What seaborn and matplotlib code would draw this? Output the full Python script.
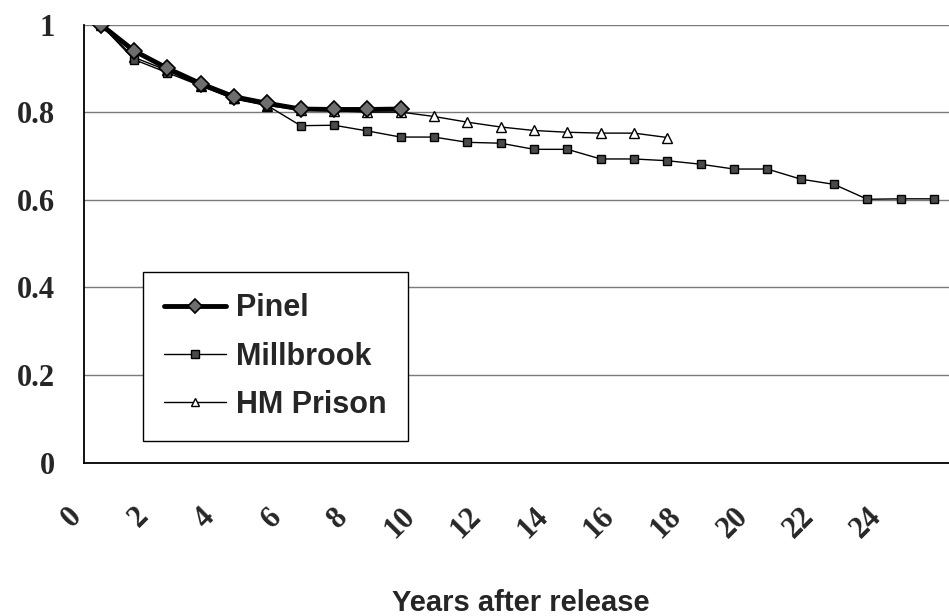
import pandas as pd
import matplotlib.pyplot as plt
import matplotlib.transforms as mtransforms
import seaborn as sns

plt.switch_backend('Agg')
sns.set_style("white")

# data (survival proportion by year after release)
years = list(range(26))
pinel = [1.0, 0.94, 0.90, 0.865, 0.835, 0.82, 0.807, 0.806, 0.806, 0.807]
millbrook = [1.0, 0.92, 0.89, 0.86, 0.83, 0.815, 0.769, 0.770, 0.757, 0.743,
             0.743, 0.731, 0.729, 0.715, 0.715, 0.693, 0.693, 0.689, 0.681,
             0.670, 0.670, 0.647, 0.635, 0.601, 0.602, 0.602]
hm_prison = [1.0, 0.925, 0.895, 0.86, 0.832, 0.815, 0.805, 0.803, 0.80, 0.80,
             0.790, 0.777, 0.766, 0.758, 0.754, 0.752, 0.752, 0.742]
y_ticks = [0, 0.2, 0.4, 0.6, 0.8, 1]
y_labels = ['0', '0.2', '0.4', '0.6', '0.8', '1']

pinel_df = pd.DataFrame({'year': years[:len(pinel)], 'value': pinel})
mill_df = pd.DataFrame({'year': years[:len(millbrook)], 'value': millbrook})
hm_df = pd.DataFrame({'year': years[:len(hm_prison)], 'value': hm_prison})

fig = plt.figure(figsize=(9.49, 6.16), dpi=100)
ax = fig.add_axes([84 / 949, 1 - 462.5 / 616, 1 - 84 / 949, (462.5 - 24.5) / 616])

sns.lineplot(data=hm_df, x='year', y='value', ax=ax, color='black', lw=1,
             marker='^', ms=6.5, mfc='white', mec='black', mew=1,
             label='HM Prison', zorder=3)
sns.lineplot(data=mill_df, x='year', y='value', ax=ax, color='black', lw=1,
             marker='s', ms=6, mfc='#4a4a4a', mec='black', mew=1,
             label='Millbrook', zorder=4)
sns.lineplot(data=pinel_df, x='year', y='value', ax=ax, color='black', lw=3.5,
             marker='D', ms=8.5, mfc='#6e6e6e', mec='black', mew=1.2,
             label='Pinel', zorder=5)

# category-style axis: tick marks between years, labels every 2 years
ax.set_xlim(-0.5, 25.45)
ax.set_ylim(0, 1)
bounds = [k - 0.5 for k in range(26)]
ax.set_xticks(bounds)
ax.set_xticklabels([str(k) if k % 2 == 0 else '' for k in range(26)],
                   rotation=45, ha='right', va='center', rotation_mode='anchor',
                   fontsize=22, fontweight='bold', family='Liberation Serif')
ax.tick_params(axis='x', direction='out', length=8, width=1, color='black', pad=28)
# nudge rotated labels a little to the left, like the original
shift = mtransforms.ScaledTranslation(-7 / 100, 0, fig.dpi_scale_trans)
for lab in ax.get_xticklabels():
    lab.set_transform(lab.get_transform() + shift)

ax.set_yticks(y_ticks)
ax.set_yticklabels(y_labels, fontsize=22, fontweight='bold', family='Liberation Serif')
ax.tick_params(axis='y', direction='out', length=8, width=1, color='black', pad=13)

ax.yaxis.grid(True, color='#7a7a7a', lw=1)
ax.xaxis.grid(False)
for side in ['top', 'right']:
    ax.spines[side].set_visible(False)
for side in ['left', 'bottom']:
    ax.spines[side].set_color('black')
    ax.spines[side].set_linewidth(1.3)
ax.set_xlabel('')
ax.set_ylabel('')

handles, labels = ax.get_legend_handles_labels()
order = [2, 1, 0]
leg = ax.legend([handles[i] for i in order], [labels[i] for i in order],
                loc='upper left', bbox_to_anchor=(143 / 949, 1 - 272 / 616),
                bbox_transform=fig.transFigure, borderaxespad=0,
                frameon=True, fancybox=False, framealpha=1, edgecolor='black',
                prop={'family': 'Liberation Sans', 'weight': 'bold', 'size': 22},
                handlelength=2.0, handletextpad=0.35, labelspacing=0.6,
                borderpad=0.7, markerscale=0.85)
leg.get_frame().set_linewidth(1)
leg.set_zorder(10)

fig.text(521 / 949, 1 - 603 / 616, 'Years after release', ha='center', va='center',
         fontsize=21, fontweight='bold', family='Liberation Sans')

fig.savefig('out.png', dpi=100)
